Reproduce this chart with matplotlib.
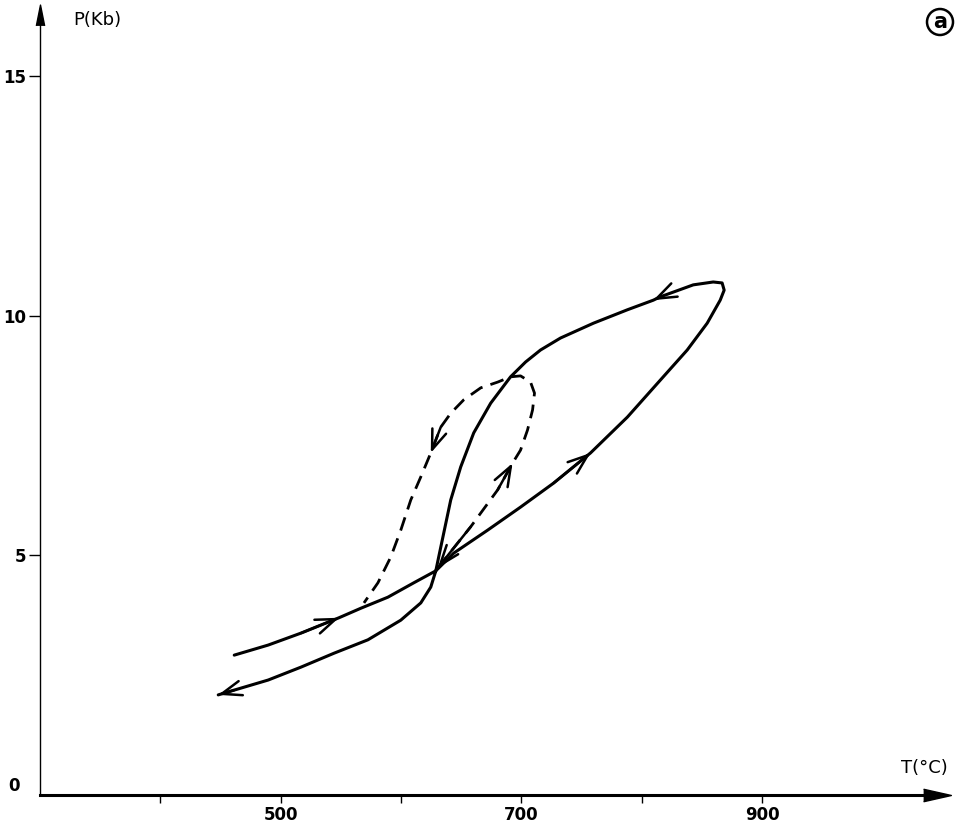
import matplotlib
matplotlib.use("Agg")
import matplotlib.pyplot as plt
from matplotlib.patches import Circle

# ---- data ----
# main solid P-T path (T in degC, P in kb), in the order it is travelled
path_T = [461.4, 489.6, 516.9, 548.4, 566.7, 589.1, 610.6, 628.9, 643.8, 672.0,
          699.3, 726.7, 757.4, 788.1, 815.4, 837.8, 854.4, 865.2, 868.5, 866.8,
          859.4, 842.8, 815.4, 809.6, 788.1, 759.9, 732.5, 715.9, 703.5, 691.0,
          674.5, 660.4, 649.6, 641.3, 635.5, 631.3, 628.9, 624.7, 616.4, 599.8,
          572.5, 544.3, 516.9, 489.6, 461.4, 448.1]
path_P = [2.92, 3.13, 3.38, 3.70, 3.90, 4.13, 4.43, 4.68, 5.05, 5.53,
          6.01, 6.51, 7.14, 7.89, 8.66, 9.29, 9.85, 10.33, 10.54, 10.69,
          10.71, 10.65, 10.40, 10.33, 10.13, 9.85, 9.54, 9.29, 9.04, 8.73,
          8.18, 7.56, 6.85, 6.16, 5.47, 4.97, 4.68, 4.34, 4.01, 3.65,
          3.24, 2.96, 2.67, 2.40, 2.19, 2.09]
path_arrows = [3, 12, 23, 45]          # arrow-head tips along the solid path

# dashed loop
loop_T = [630.5, 657.9, 680.3, 692.7, 699.3, 705.1, 709.3, 710.9, 707.6, 699.3,
          691.0, 680.3, 666.2, 652.1, 641.3, 633.0, 624.7, 616.4, 608.1, 599.8,
          591.5, 580.8, 569.2]
loop_P = [4.74, 5.60, 6.37, 6.93, 7.20, 7.62, 8.04, 8.39, 8.62, 8.75,
          8.73, 8.62, 8.50, 8.25, 7.97, 7.68, 7.14, 6.64, 6.16, 5.53,
          4.97, 4.43, 4.01]
loop_arrows = [3, 16]

x_ticks = [400, 500, 600, 700, 800, 900]
x_labels = ["", "500", "", "700", "", "900"]
y_ticks = [5, 10, 15]
y_labels = ["5", "10", "15"]

# ---- figure ----
W, H = 963, 825
AX_W, AX_H = 905, 787
fig = plt.figure(figsize=(W / 100, H / 100), dpi=100)
ax = fig.add_axes([40 / W, 30 / H, AX_W / W, AX_H / H])
ax.set_xlim(300, 1052)
ax.set_ylim(0, 16.43)

for s in ["top", "right"]:
    ax.spines[s].set_visible(False)
ax.spines["left"].set_linewidth(1.0)
ax.spines["bottom"].set_linewidth(2.2)

ax.set_xticks(x_ticks)
ax.set_xticklabels(x_labels, fontsize=12, fontweight="bold")
ax.set_yticks(y_ticks)
ax.set_yticklabels(y_labels, fontsize=12, fontweight="bold")
ax.tick_params(axis="x", direction="out", length=6, width=1.0, pad=2)
ax.tick_params(axis="y", direction="out", length=8, width=1.0, pad=2)
fig.text(8 / W, 1 - 786 / H, "0", fontsize=12, fontweight="bold",
         ha="left", va="center")

# axis arrows (filled heads whose tips sit at the ends of the axes)
ax.plot(1 - 8 / AX_W, 0, marker=[(-1, -0.45), (1, 0), (-1, 0.45)], color="k",
        markersize=20, transform=ax.transAxes, clip_on=False)
ax.plot(0, 1 - 7 / AX_H, marker=[(-0.4, -1), (0, 1), (0.4, -1)], color="k",
        markersize=15, transform=ax.transAxes, clip_on=False)

# curves
ax.plot(path_T, path_P, color="k", lw=2.2, solid_capstyle="round",
        solid_joinstyle="round")
ax.plot(loop_T, loop_P, color="k", lw=2.0, dashes=(5, 3.0))

def arrow(xy, xytext):
    ax.annotate("", xy=xy, xytext=xytext,
                arrowprops=dict(arrowstyle="->,head_length=0.65,head_width=0.24",
                                lw=1.8, color="k", mutation_scale=22,
                                shrinkA=0, shrinkB=0))

for i in path_arrows:
    arrow((path_T[i], path_P[i]), (path_T[i - 1], path_P[i - 1]))
for i in loop_arrows:
    arrow((loop_T[i], loop_P[i]), (loop_T[i - 1], loop_P[i - 1]))
# arrow head at the junction of the dashed loop
arrow((loop_T[0], loop_P[0]), (loop_T[1], loop_P[1]))

# labels
fig.text(73 / W, 1 - 20 / H, "P(Kb)", fontsize=13, ha="left", va="center")
fig.text(948 / W, 1 - 768 / H, "T(°C)", fontsize=13, ha="right", va="center")

# circled a
fig.text(940 / W, 1 - 22 / H, "a", fontsize=15, ha="center", va="center",
         fontweight="bold")
fig.patches.append(Circle((940, H - 22), 13, transform=None, fill=False,
                          lw=1.8, color="k"))

fig.savefig("out.png", dpi=100, facecolor="white")
